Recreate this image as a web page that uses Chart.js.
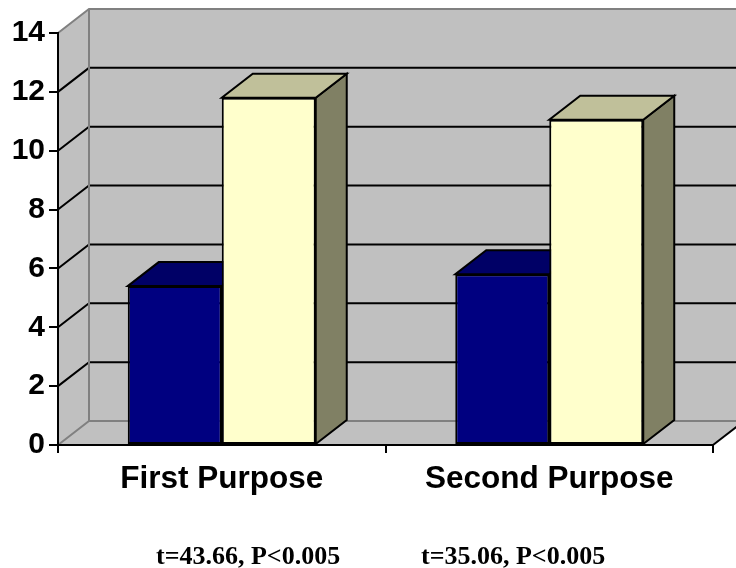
<!DOCTYPE html>
<html>
<head>
<meta charset="utf-8">
<title>First and Second Purpose</title>
<script src="https://cdn.jsdelivr.net/npm/chart.js@4/dist/chart.umd.min.js"></script>
<style>
  html, body { margin: 0; padding: 0; background: #ffffff; }
  #wrap { width: 736px; height: 568px; position: relative; }
</style>
</head>
<body>
<div id="wrap"><canvas id="chart" width="736" height="568"></canvas></div>
<script>
// Chart data
const categories = ['First Purpose', 'Second Purpose'];
const seriesNavy = [5.4, 5.8];
const seriesCream = [11.8, 11.05];
const statLabels = ['t=43.66, P<0.005', 't=35.06, P<0.005'];
const yMin = 0;
const yMax = 14;
const yStep = 2;

// Look of the box: walls, depth offset and face shades
const WALL = '#c0c0c0';
const EDGE = '#808080';
const DEPTH = { dx: 31, dy: -24 };
const faceShades = [
  { top: '#000066', side: '#000040' },
  { top: '#c0c09a', side: '#808064' }
];

const SANS = "'Liberation Sans', Arial, sans-serif";
const SERIF = "'Liberation Serif', 'Times New Roman', serif";

function poly(ctx, pts) {
  ctx.beginPath();
  ctx.moveTo(pts[0][0], pts[0][1]);
  for (let i = 1; i < pts.length; i++) ctx.lineTo(pts[i][0], pts[i][1]);
  ctx.closePath();
}
function seg(ctx, pts, color, width) {
  ctx.beginPath();
  ctx.moveTo(pts[0][0], pts[0][1]);
  for (let i = 1; i < pts.length; i++) ctx.lineTo(pts[i][0], pts[i][1]);
  ctx.strokeStyle = color;
  ctx.lineWidth = width;
  ctx.stroke();
}

// Back wall, side wall and floor behind the bars
const boxPlugin = {
  id: 'box3d',
  beforeDraw(chart) {
    const { ctx, chartArea: a, scales: { y } } = chart;
    const { dx, dy } = DEPTH;
    const L = a.left, R = a.right;
    const T = y.getPixelForValue(yMax), B = y.getPixelForValue(yMin);
    const farRight = chart.width + 10;
    ctx.save();
    ctx.fillStyle = '#ffffff';
    ctx.fillRect(0, 0, chart.width, chart.height);
    ctx.fillStyle = WALL;
    poly(ctx, [[L + dx, T + dy], [farRight, T + dy], [farRight, B + dy], [L + dx, B + dy]]);
    ctx.fill();
    poly(ctx, [[L, B], [L, T], [L + dx, T + dy], [L + dx, B + dy]]);
    ctx.fill();
    poly(ctx, [[L, B], [R, B], [R + dx, B + dy], [L + dx, B + dy]]);
    ctx.fill();

    // grid lines across the side wall and the back wall
    ctx.lineJoin = 'miter';
    for (let v = yMin + yStep; v < yMax; v += yStep) {
      const yf = y.getPixelForValue(v);
      seg(ctx, [[L, yf], [L + dx, yf + dy], [farRight, yf + dy]], '#000000', 2);
    }
    // box edges
    seg(ctx, [[L, T], [L + dx, T + dy], [farRight, T + dy]], EDGE, 2);
    seg(ctx, [[L + dx, T + dy], [L + dx, B + dy]], EDGE, 2);
    seg(ctx, [[L, B], [L + dx, B + dy], [R + dx, B + dy]], EDGE, 2);
    seg(ctx, [[R, B], [R + dx, B + dy]], '#000000', 2);
    ctx.restore();
  },
  // top and side faces of every bar, under the front faces
  beforeDatasetsDraw(chart) {
    const { ctx } = chart;
    const { dx, dy } = DEPTH;
    ctx.save();
    ctx.lineWidth = 2;
    ctx.strokeStyle = '#000000';
    ctx.lineJoin = 'miter';
    chart.data.datasets.forEach((ds, i) => {
      const meta = chart.getDatasetMeta(i);
      meta.data.forEach(bar => {
        const p = bar.getProps(['x', 'y', 'base', 'width'], true);
        const l = p.x - p.width / 2, r = p.x + p.width / 2;
        poly(ctx, [[r, p.y], [r + dx, p.y + dy], [r + dx, p.base + dy], [r, p.base]]);
        ctx.fillStyle = faceShades[i].side;
        ctx.fill();
        ctx.stroke();
        poly(ctx, [[l, p.y], [r, p.y], [r + dx, p.y + dy], [l + dx, p.y + dy]]);
        ctx.fillStyle = faceShades[i].top;
        ctx.fill();
        ctx.stroke();
      });
    });
    ctx.restore();
  },
  // test statistics under the category names
  afterDraw(chart) {
    const { ctx } = chart;
    const starts = [156, 421];
    ctx.save();
    ctx.font = "bold 26px " + SERIF;
    ctx.fillStyle = '#000000';
    ctx.textAlign = 'left';
    ctx.textBaseline = 'alphabetic';
    statLabels.forEach((t, i) => ctx.fillText(t, starts[i], 564));
    ctx.restore();
  }
};

new Chart(document.getElementById('chart'), {
  type: 'bar',
  data: {
    labels: categories,
    datasets: [
      {
        data: seriesNavy,
        backgroundColor: '#000080',
        borderColor: '#000000',
        borderWidth: 2,
        borderSkipped: false
      },
      {
        data: seriesCream,
        backgroundColor: '#ffffcc',
        borderColor: '#000000',
        borderWidth: 2,
        borderSkipped: false
      }
    ]
  },
  options: {
    responsive: false,
    animation: false,
    events: [],
    layout: { padding: { left: 0, right: 23, top: 33, bottom: 0 } },
    datasets: { bar: { categoryPercentage: 0.574, barPercentage: 1.0 } },
    plugins: {
      legend: { display: false },
      tooltip: { enabled: false },
      title: { display: false }
    },
    scales: {
      x: {
        offset: true,
        grid: {
          offset: true,
          drawOnChartArea: false,
          drawTicks: true,
          tickLength: 8,
          color: '#000000',
          lineWidth: 2
        },
        border: { display: true, color: '#000000', width: 2 },
        ticks: {
          color: '#000000',
          padding: 7,
          maxRotation: 0,
          font: { family: SANS, size: 31.5, weight: 'bold' }
        },
        afterFit(scale) { scale.height = 123; }
      },
      y: {
        min: yMin,
        max: yMax,
        grid: {
          drawOnChartArea: false,
          drawTicks: true,
          tickLength: 9,
          color: '#000000',
          lineWidth: 2
        },
        border: { display: true, color: '#000000', width: 2 },
        ticks: {
          stepSize: yStep,
          color: '#000000',
          padding: 4,
          font: { family: SANS, size: 30, weight: 'bold' }
        },
        afterFit(scale) { scale.width = 58; }
      }
    }
  },
  plugins: [boxPlugin]
});
</script>
</body>
</html>
